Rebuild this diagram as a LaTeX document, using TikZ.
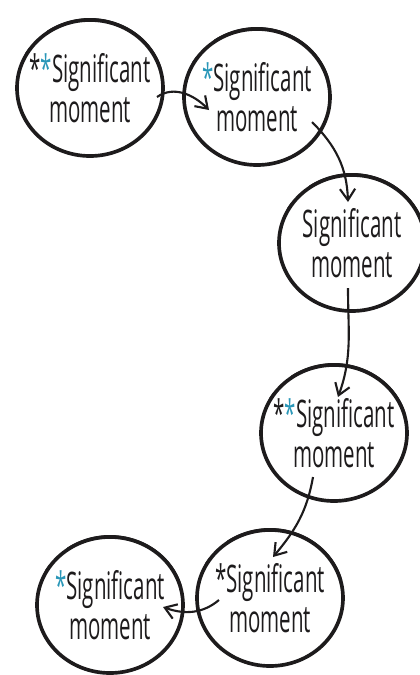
\documentclass[tikz,border=0pt]{standalone}
\usepackage{fontspec}
\setmainfont[FakeStretch=0.54]{Open Sans}
\usetikzlibrary{arrows.meta,positioning,calc,shapes.geometric}
\definecolor{cInk}{HTML}{1d1b1c}
\definecolor{cStar}{HTML}{2a97b8}
\tikzset{
  moment/.style={ellipse,draw=cInk,line width=2.6pt,minimum width=3.65cm,minimum height=3.4cm,
    inner xsep=-0.8cm,inner ysep=-0.6cm,align=center,text=cInk,font=\fontsize{27}{28.5}\selectfont,
    execute at begin node={\rule{0pt}{26pt}}},
  brush/.style={draw=cInk,line width=1.4pt,line cap=round},
  flow/.style={-{Straight Barb[length=2.8mm,width=3.8mm]},line width=1.5pt,cInk},
}
\newcommand{\bstar}{\textcolor{cStar}{*}}

\begin{document}
\begin{tikzpicture}[on grid]
  \useasboundingbox (0,0) rectangle (10.5,-16.875);
  % the chain of moments
  \node[moment] (m1) at (2.25,-2.2) {*\bstar Significant\\moment};
  \node[moment,below right=0.225cm and 4.175cm of m1] (m2) {\bstar Significant\\moment};
  \node[moment,below right=3.65cm and 2.375cm of m2] (m3) {Significant\\moment};
  \node[moment,below left=4.75cm and 0.45cm of m3] (m4) {*\bstar Significant\\moment};
  \node[moment,below left=4.125cm and 1.6cm of m4] (m5) {*Significant\\moment};
  \node[moment,below left=0.175cm and 4cm of m5] (m6) {\bstar Significant\\moment};
  % heavier brush on top, and the overlap where the stroke starts
  \foreach \n in {m1,m2,m3,m4,m5,m6} {
    \draw[brush] ($(\n)+({1.845*cos(15)},{1.725*sin(15)})$)
      arc[start angle=15,end angle=125,x radius=1.845cm,y radius=1.725cm];
    \draw[brush] ($(\n)+(-1.5,1.0)$) -- ++(-0.1,-0.14);
  }
  % arrows
  \draw[flow] ($(m1)+(1.675,-0.225)$) to[out=35,in=135] ($(m2)+(-1.2,-0.325)$);
  \draw[flow] ($(m2)+(1.375,-0.625)$) to[out=-45,in=92] ($(m3)+(-0.1,1.025)$);
  \draw[flow] ($(m3)+(-0.1,-1.125)$) to[out=-90,in=70] ($(m4)+(0.1,0.9)$);
  \draw[flow] ($(m4)+(-0.525,-1.1)$) to[out=-100,in=50] ($(m5)+(0.075,1.025)$);
  \draw[flow] ($(m5)+(-1.275,-0.05)$) to[out=220,in=-20] ($(m6)+(1.325,-0.05)$);
\end{tikzpicture}
\end{document}
